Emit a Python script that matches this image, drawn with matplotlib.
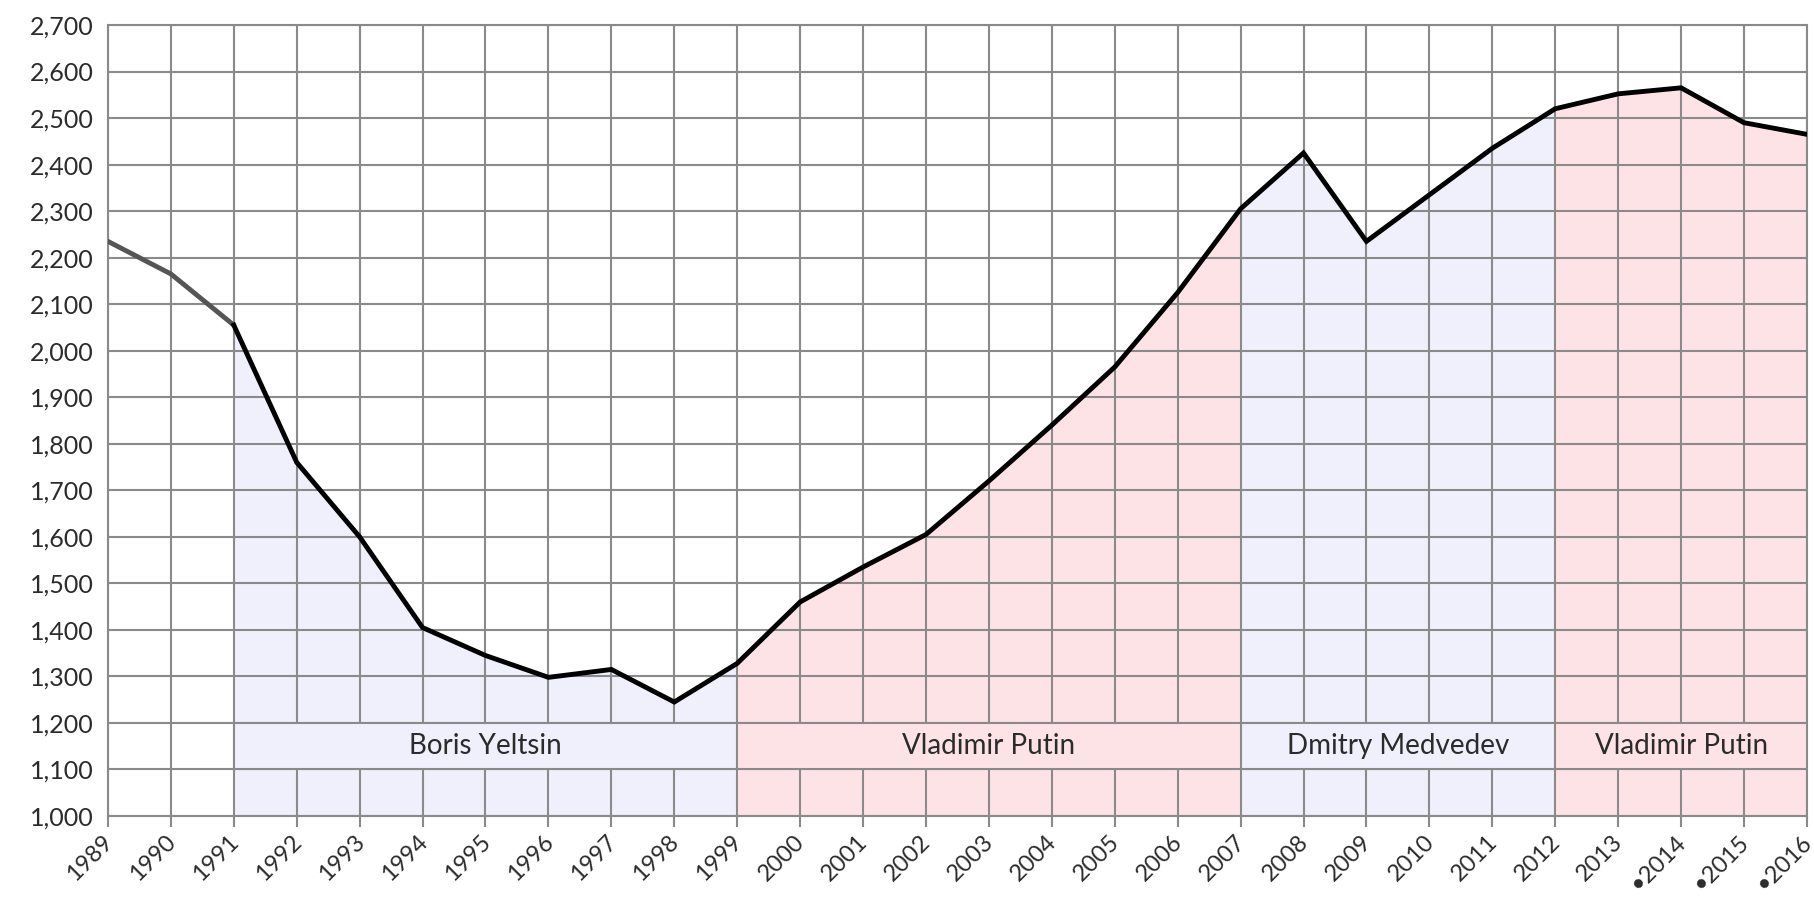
import matplotlib.pyplot as plt
import matplotlib.transforms as mtransforms
import numpy as np

plt.rcParams["font.family"] = ["Lato", "DejaVu Sans"]

years = list(range(1989, 2017))
values = [2235, 2165, 2055, 1760, 1600, 1405, 1345, 1298, 1315, 1245,
          1328, 1460, 1535, 1605, 1720, 1840, 1965, 2125, 2305, 2425,
          2235, 2335, 2435, 2520, 2552, 2565, 2490, 2465]
tick_labels = [str(y) for y in years[:-3]] + ["•2014", "•2015", "•2016"]

terms = [
    ("Boris Yeltsin", 1991, 1999, "#f0f0fc"),
    ("Vladimir Putin", 1999, 2007, "#fde3e6"),
    ("Dmitry Medvedev", 2007, 2012, "#f0f0fc"),
    ("Vladimir Putin", 2012, 2016, "#fde3e6"),
]

x = np.array(years)
y = np.array(values)

fig = plt.figure(figsize=(18.14, 8.99), dpi=100)
ax = fig.add_axes([0.0595, 0.0923, 0.9366, 0.8799])

grid_c = "#8a8a8a"
text_c = "#2b2b2b"
for name, a, b, c in terms:
    m = (x >= a) & (x <= b)
    ax.fill_between(x[m], 1000, y[m], color=c, zorder=0, lw=0)
    # label band covering vertical gridlines
    ax.fill_between([a, b], 1100, 1200, color=c, zorder=2, lw=0)
    ax.text((a + b) / 2, 1150, name, ha="center", va="center",
            fontsize=20, color=text_c, zorder=5)

ax.set_xlim(1989, 2016)
ax.set_ylim(1000, 2700)
ax.set_xticks(years)
ax.set_yticks(range(1000, 2701, 100))
ax.set_yticklabels([f"{v:,}" for v in range(1000, 2701, 100)],
                   fontsize=18, color=text_c)
ax.grid(True, color=grid_c, lw=1.5, zorder=1)
ax.set_axisbelow(True)
ax.tick_params(axis="x", length=8, width=1.5, color=grid_c, pad=3)
ax.tick_params(axis="y", length=0, pad=10)
ax.set_xticklabels(tick_labels, rotation=45, ha="right", va="top",
                   rotation_mode="anchor", fontsize=17, color=text_c)
# nudge the rotated year labels a little left so the last one fits
shift = mtransforms.ScaledTranslation(-6 / 100, 0, fig.dpi_scale_trans)
for lbl in ax.get_xticklabels():
    lbl.set_transform(lbl.get_transform() + shift)
for s in ax.spines.values():
    s.set_color(grid_c)
    s.set_linewidth(1.5)

# lines over the label band
ax.hlines([1100, 1200], 1991, 2016, color=grid_c, lw=1.5, zorder=3)
ax.vlines([1991, 1999, 2007, 2012], 1100, 1200, color=grid_c, lw=1.5, zorder=3)

ax.plot(x[:3], y[:3], color="#555555", lw=3.5, zorder=6, solid_capstyle="round")
ax.plot(x[2:], y[2:], color="#000000", lw=3.5, zorder=6, solid_joinstyle="miter")

fig.savefig("out.png", dpi=100)
